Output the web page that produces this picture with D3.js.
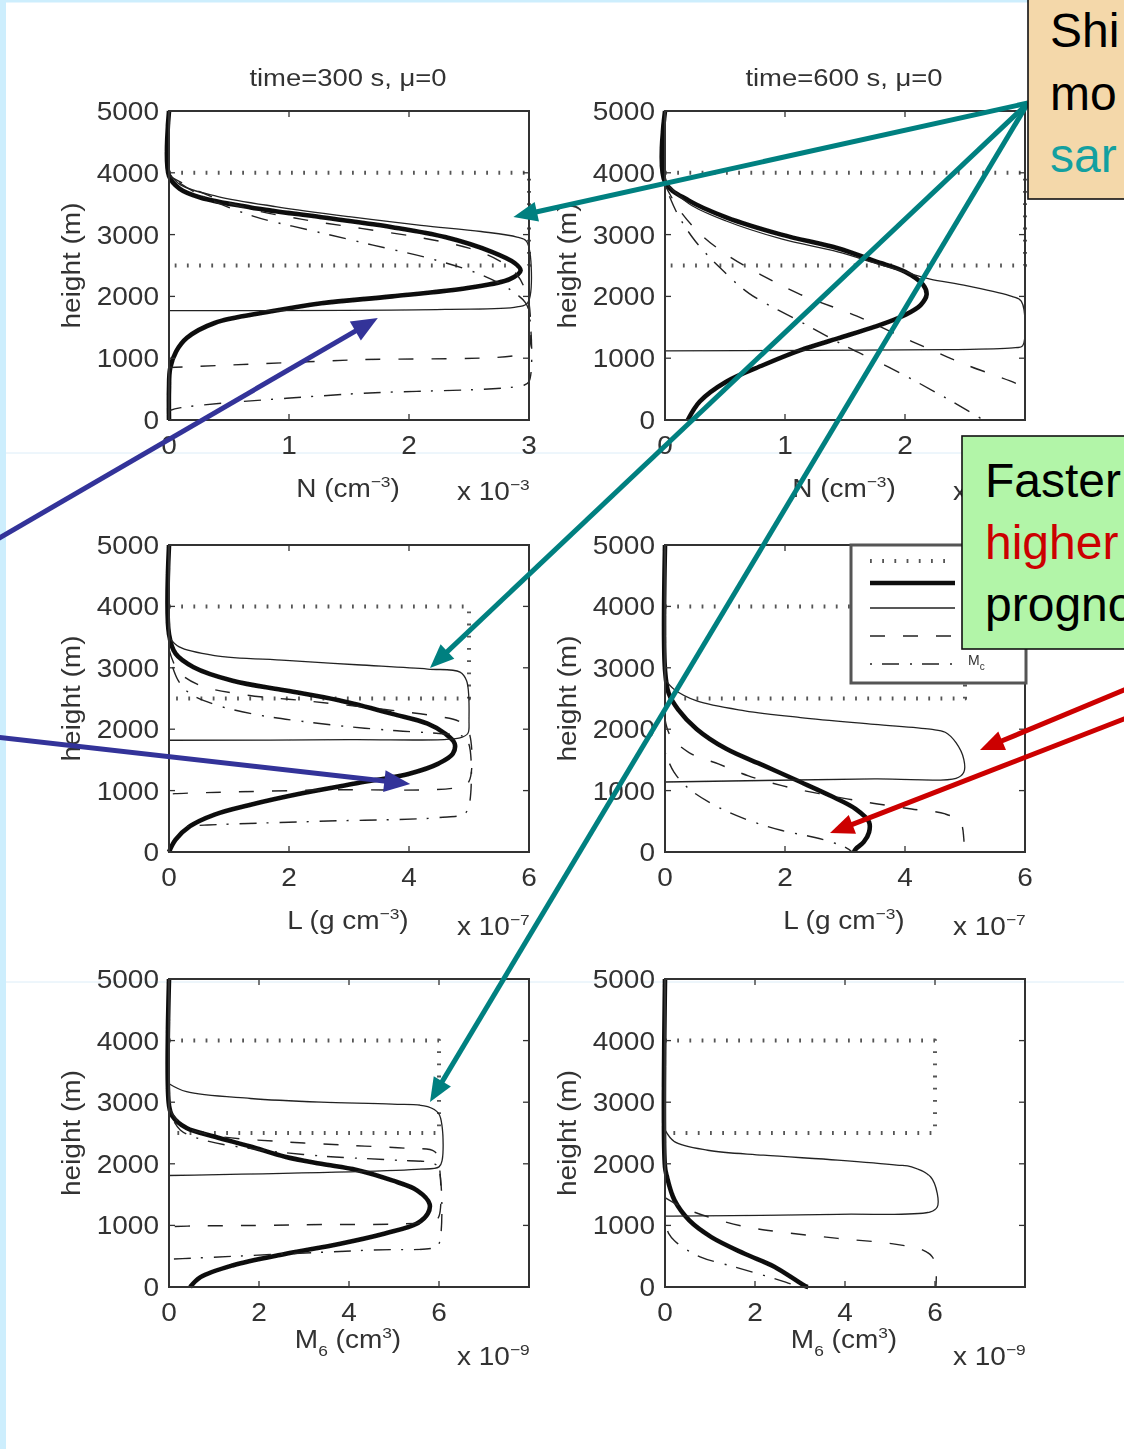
<!DOCTYPE html>
<html>
<head>
<meta charset="utf-8">
<script src="https://cdn.jsdelivr.net/npm/d3@7"></script>
<style>
  html, body { margin: 0; padding: 0; background: #fff; overflow: hidden; }
  svg { display: block; }
</style>
</head>
<body>
<svg id="fig" width="1124" height="1449"></svg>
<script>
// ---- axis ticks and labels ----
const heightTicks = [0, 1000, 2000, 3000, 4000, 5000];
const nTicks = [0, 1, 2, 3];
const lTicks = [0, 2, 4, 6];
const mTicks = [0, 2, 4, 6];
const titles = ["time=300 s,  \u03bc=0", "time=600 s,  \u03bc=0"];
const legendLabel = ["M", "c"];

// ---- profiles: [value, height (m)] ----
// number concentration N (x 10^-3 cm^-3)
const initN300 = [[0, 4000], [3, 4000], [3, 2500], [0, 2500]];
const binN300 = [[0, 5000], [0, 3950], [0.09, 3740], [0.26, 3600], [0.68, 3440], [1.27, 3280], [1.86, 3120], [2.3, 2960], [2.69, 2720], [2.88, 2540], [2.93, 2420], [2.84, 2280], [2.5, 2140], [1.86, 2000], [1.27, 1890], [0.83, 1750], [0.38, 1570], [0.15, 1330], [0.06, 1110], [0.01, 840], [0, 500], [0, 0]];
const thinN300 = [[0, 4000], [0.1, 3800], [0.4, 3620], [0.9, 3450], [1.5, 3290], [2.1, 3150], [2.6, 3050], [2.9, 2960], [2.98, 2890], [2.99, 1900], [2.9, 1830], [2.3, 1790], [0, 1770]];
const dashN300 = [[0, 3950], [0.25, 3700], [0.6, 3450], [1.1, 3250], [1.6, 3100], [2.1, 2950], [2.5, 2780], [2.75, 2580], [2.9, 2350], [2.97, 2100], [3.0, 1900], [3.0, 1150], [2.95, 1070], [1.5, 970], [0.15, 860], [0, 850]];
const dashdotN300 = [[0, 3950], [0.25, 3650], [0.7, 3300], [1.2, 3060], [1.7, 2830], [2.2, 2600], [2.6, 2350], [2.85, 2100], [2.97, 1900], [3.0, 1750], [3.0, 620], [2.95, 560], [1.5, 420], [0.1, 200], [0, 150]];

const initN600 = [[0, 4000], [3, 4000], [3, 2500], [0, 2500]];
const binN600 = [[0, 5000], [0, 3850], [0.2, 3550], [0.51, 3280], [0.97, 3000], [1.44, 2780], [1.75, 2570], [2.0, 2400], [2.15, 2190], [2.18, 2030], [2.13, 1860], [2.0, 1700], [1.75, 1510], [1.44, 1320], [1.13, 1130], [0.82, 890], [0.51, 620], [0.29, 300], [0.19, 0]];
const thinN600 = [[0, 3850], [0.2, 3500], [0.51, 3220], [0.97, 2930], [1.44, 2720], [1.75, 2540], [2.06, 2360], [2.21, 2280], [2.52, 2170], [2.89, 2000], [2.97, 1920], [2.98, 1200], [2.92, 1170], [2.37, 1140], [0, 1120]];
const dashN600 = [[0, 3800], [0.12, 3400], [0.3, 3000], [0.51, 2680], [0.8, 2350], [1.13, 2030], [1.6, 1680], [2.06, 1270], [2.5, 900], [2.95, 570], [3.0, 500]];
const dashdotN600 = [[0, 3800], [0.1, 3350], [0.25, 2900], [0.45, 2480], [0.7, 2050], [1.13, 1590], [1.5, 1200], [1.9, 820], [2.3, 400], [2.61, 50], [2.65, 0]];

// liquid water content L (x 10^-7 g cm^-3)
const initL300 = [[0, 4000], [5, 4000], [5, 2500], [0, 2500]];
const binL300 = [[0, 5000], [0, 3550], [0.11, 3230], [0.41, 3010], [1.06, 2790], [1.95, 2630], [2.83, 2470], [3.72, 2250], [4.31, 2090], [4.6, 1930], [4.76, 1770], [4.73, 1600], [4.49, 1440], [4.02, 1280], [3.13, 1120], [2.24, 960], [1.36, 770], [0.76, 610], [0.35, 420], [0.11, 200], [0, 0]];
const thinL300 = [[0, 3500], [0.17, 3340], [0.76, 3200], [1.95, 3120], [3.13, 3050], [4.31, 2980], [4.85, 2930], [4.96, 2790], [5.0, 2150], [4.98, 1930], [4.85, 1860], [3.0, 1830], [0, 1820]];
const dashL300 = [[0, 3300], [0.15, 2950], [0.5, 2720], [1.2, 2570], [2.4, 2450], [3.6, 2320], [4.4, 2220], [4.85, 2120], [5.0, 1950], [5.0, 1150], [4.85, 1060], [2.5, 1010], [0.1, 950], [0, 940]];
const dashdotL300 = [[0, 3200], [0.15, 2800], [0.35, 2580], [0.8, 2390], [1.5, 2230], [2.2, 2130], [3.0, 2040], [3.8, 1975], [4.5, 1930], [4.9, 1880], [5.0, 1750], [5.0, 750], [4.92, 620], [4.5, 560], [2.5, 500], [0.64, 440], [0.3, 420]];

const initL600 = [[0, 4000], [5, 4000], [5, 2500], [0, 2500]];
const binL600 = [[0, 5000], [0, 2970], [0.06, 2590], [0.22, 2320], [0.53, 2000], [1.02, 1680], [1.64, 1410], [2.26, 1140], [2.75, 920], [3.18, 700], [3.4, 490], [3.4, 320], [3.31, 160], [3.18, 50], [3.15, 0]];
const thinL600 = [[0, 2810], [0.15, 2650], [0.53, 2460], [1.33, 2300], [2.26, 2190], [3.49, 2080], [4.42, 2000], [4.67, 1950], [4.85, 1780], [4.98, 1510], [4.98, 1300], [4.85, 1200], [3.49, 1190], [0, 1140]];
const dashL600 = [[0, 2160], [0.09, 1890], [0.4, 1620], [0.9, 1430], [1.39, 1240], [1.95, 1080], [2.57, 950], [3.37, 810], [4.11, 700], [4.67, 620], [4.92, 490], [4.98, 220], [4.98, 0]];
const dashdotL600 = [[0, 1620], [0.15, 1300], [0.4, 1030], [0.83, 760], [1.33, 540], [1.95, 350], [2.57, 220], [3.0, 80], [3.12, 0]];

// sixth moment M6 (x 10^-9 cm^3)
const initM300 = [[0, 4000], [6, 4000], [6, 2500], [0, 2500]];
const binM300 = [[0, 5000], [0, 2950], [0.07, 2780], [0.39, 2580], [1.02, 2440], [1.81, 2280], [2.6, 2110], [3.38, 2000], [4.17, 1900], [4.96, 1730], [5.51, 1570], [5.79, 1350], [5.75, 1190], [5.51, 1030], [4.8, 870], [3.78, 700], [2.6, 540], [1.41, 350], [0.7, 160], [0.47, 0]];
const thinM300 = [[0, 3300], [0.39, 3170], [1.81, 3060], [3.38, 3000], [4.96, 2970], [5.75, 2930], [5.99, 2820], [6.07, 2600], [6.07, 2060], [6.0, 1950], [5.5, 1910], [0, 1810]];
const dashM300 = [[0, 2900], [0.3, 2620], [1.0, 2460], [2.5, 2360], [4.0, 2300], [5.3, 2250], [5.9, 2200], [6.0, 2000], [6.0, 1150], [5.9, 1080], [3.0, 1010], [0.5, 990], [0, 980]];
const dashdotM300 = [[0, 2850], [0.25, 2550], [0.8, 2380], [2.0, 2230], [3.5, 2120], [5.0, 2060], [5.9, 2000], [6.0, 1900], [6.0, 700], [5.9, 640], [4.5, 600], [0.3, 460], [0, 450]];

const initM600 = [[0, 4000], [6, 4000], [6, 2500], [0, 2500]];
const binM600 = [[0, 5000], [0, 1950], [0.04, 1800], [0.21, 1410], [0.54, 1080], [1.03, 810], [1.77, 540], [2.43, 330], [3.13, 10], [3.18, 0]];
const thinM600 = [[0, 2550], [0.21, 2360], [0.95, 2220], [2.19, 2140], [3.84, 2060], [5.15, 1980], [5.48, 1950], [5.9, 1790], [6.05, 1520], [6.05, 1300], [5.9, 1220], [3.84, 1180], [0, 1150]];
const dashM600 = [[0, 1450], [0.37, 1300], [0.95, 1140], [1.77, 980], [2.6, 890], [3.84, 790], [5.07, 700], [5.73, 600], [5.94, 490], [6.02, 330], [6.02, 0]];
const dashdotM600 = [[0, 1100], [0.08, 870], [0.29, 700], [0.78, 490], [1.53, 330], [2.19, 190], [2.68, 80], [2.93, 10], [2.95, 0]];

// ---- callouts: arrow tips in panel data coordinates ----
const shiftTips = [["N300", 2.87, 3285], ["L300", 4.35, 2997], ["M300", 5.8, 3003]];
const spectralTips = [["N300", 1.74, 1650], ["L300", 4.02, 1107]];
const fasterTips = [["L600", 5.25, 1661], ["L600", 2.75, 309]];
const shiftLines = ["Shi", "mo", "sar"];
const fasterLines = ["Faster", "higher", "progno"];

// ---- layout ----
const W = 1124, H = 1449;
const cols = [{ left: 169, right: 529 }, { left: 665, right: 1025 }];
const rows = [
  { top: 111, bottom: 420, labelDy: 77, expDy: 80 },
  { top: 545, bottom: 852, labelDy: 77, expDy: 83 },
  { top: 979, bottom: 1287, labelDy: 61, expDy: 78 }
];
const quantities = [
  { xMax: 3, ticks: nTicks, exp: "\u22123", label: [["N (cm", 0], ["\u22123", -1], [")", 0]] },
  { xMax: 6, ticks: lTicks, exp: "\u22127", label: [["L (g cm", 0], ["\u22123", -1], [")", 0]] },
  { xMax: 8, ticks: mTicks, exp: "\u22129", label: [["M", 0], ["6", 1], [" (cm", 0], ["3", -1], [")", 0]] }
];
const panels = [
  { id: "N300", r: 0, c: 0, series: [initN300, binN300, thinN300, dashN300, dashdotN300] },
  { id: "N600", r: 0, c: 1, series: [initN600, binN600, thinN600, dashN600, dashdotN600] },
  { id: "L300", r: 1, c: 0, series: [initL300, binL300, thinL300, dashL300, dashdotL300] },
  { id: "L600", r: 1, c: 1, series: [initL600, binL600, thinL600, dashL600, dashdotL600], legend: true },
  { id: "M300", r: 2, c: 0, series: [initM300, binM300, thinM300, dashM300, dashdotM300] },
  { id: "M600", r: 2, c: 1, series: [initM600, binM600, thinM600, dashM600, dashdotM600] }
];
const lineStyles = [
  { w: 4, dash: "1.8 10.4", color: "#555" },
  { w: 4.6, dash: null, color: "#111" },
  { w: 1.3, dash: null, color: "#222" },
  { w: 1.4, dash: "15 18", color: "#222" },
  { w: 1.4, dash: "2 10 17 11", color: "#222" }
];

const FONT = "'Liberation Sans', Arial, Helvetica, sans-serif";
const TXT = "#333";
const SX = 1.12;   // horizontal stretch of the plot lettering

const svg = d3.select("#fig");
const defs = svg.append("defs");
defs.append("filter").attr("id", "soft").attr("x", "-5%").attr("y", "-5%").attr("width", "110%").attr("height", "110%")
  .append("feGaussianBlur").attr("stdDeviation", 0.5);

// page background with slide strips
svg.append("rect").attr("width", W).attr("height", H).attr("fill", "#fff");
svg.append("rect").attr("x", 0).attr("y", 0).attr("width", 6).attr("height", H).attr("fill", "#cdeefd");
svg.append("rect").attr("x", 0).attr("y", 0).attr("width", W).attr("height", 2.5).attr("fill", "#cdeefd");
[453, 982].forEach(y => svg.append("line").attr("x1", 6).attr("x2", W).attr("y1", y).attr("y2", y)
  .attr("stroke", "#dcedf8").attr("stroke-width", 1));

const fig = svg.append("g").attr("filter", "url(#soft)");

function stretchedText(g, x, y, size, anchor, rotate) {
  return g.append("text")
    .attr("transform", `translate(${x},${y})` + (rotate ? " rotate(-90)" : "") + ` scale(${SX},1)`)
    .attr("font-family", FONT).attr("font-size", size).attr("fill", TXT)
    .attr("text-anchor", anchor);
}

function addParts(t, parts, size) {
  let shift = 0;
  parts.forEach(([s, kind]) => {
    const target = kind === -1 ? -0.42 * size : kind === 1 ? 0.3 * size : 0;
    t.append("tspan").attr("dy", target - shift)
      .attr("font-size", kind === 0 ? size : size * 0.62).text(s);
    shift = target;
  });
}

const scales = {};

panels.forEach(p => {
  const col = cols[p.c], row = rows[p.r], q = quantities[p.r];
  const x = d3.scaleLinear().domain([0, q.xMax]).range([col.left, col.right]);
  const y = d3.scaleLinear().domain([0, 5000]).range([row.bottom, row.top]);
  scales[p.id] = { x, y };
  const g = fig.append("g");

  const smooth = d3.line().x(d => x(d[0])).y(d => y(d[1])).curve(d3.curveCatmullRom.alpha(0.5));
  const straight = d3.line().x(d => x(d[0])).y(d => y(d[1]));

  p.series.forEach((data, i) => {
    const st = lineStyles[i];
    g.append("path").datum(data)
      .attr("d", i === 0 ? straight : smooth)
      .attr("fill", "none").attr("stroke", st.color).attr("stroke-width", st.w)
      .attr("stroke-dasharray", st.dash).attr("stroke-linejoin", "round");
  });

  // box and inward ticks
  g.append("rect").attr("x", col.left).attr("y", row.top)
    .attr("width", col.right - col.left).attr("height", row.bottom - row.top)
    .attr("fill", "none").attr("stroke", "#333").attr("stroke-width", 2);
  q.ticks.forEach(v => {
    [[row.bottom, -6], [row.top, 6]].forEach(([yy, d]) => g.append("line")
      .attr("x1", x(v)).attr("x2", x(v)).attr("y1", yy).attr("y2", yy + d)
      .attr("stroke", "#333").attr("stroke-width", 1.3));
    stretchedText(g, x(v), row.bottom + 34, 25, "middle").text(v);
  });
  heightTicks.forEach(v => {
    [[col.left, 6], [col.right, -6]].forEach(([xx, d]) => g.append("line")
      .attr("x1", xx).attr("x2", xx + d).attr("y1", y(v)).attr("y2", y(v))
      .attr("stroke", "#333").attr("stroke-width", 1.3));
    stretchedText(g, col.left - 10, y(v) + 9, 25, "end").text(v);
  });

  // axis titles
  const cx = (col.left + col.right) / 2 - 1;
  addParts(stretchedText(g, cx, row.bottom + row.labelDy, 25, "middle"), q.label, 25);
  addParts(stretchedText(g, col.left + 288, row.bottom + row.expDy, 25, "start"), [["x 10", 0], [q.exp, -1]], 25);
  stretchedText(g, col.left - 89, (row.top + row.bottom) / 2, 25, "middle", true)
    .text(p.id === "M600" ? "height  (m)" : "height (m)");
  if (p.r === 0) {
    stretchedText(g, cx, row.top - 25, 24.5, "middle").text(titles[p.c]);
  }

  if (p.legend) {
    const lg = g.append("g");
    const lx = col.left + 186, ly = row.top, lw = 175, lh = 138;
    lg.append("rect").attr("x", lx).attr("y", ly).attr("width", lw).attr("height", lh)
      .attr("fill", "#fff").attr("stroke", "#555").attr("stroke-width", 3);
    const rowsY = [16, 38, 63, 91, 119];
    lineStyles.forEach((st, i) => {
      lg.append("line").attr("x1", lx + 19).attr("x2", lx + 104)
        .attr("y1", ly + rowsY[i]).attr("y2", ly + rowsY[i])
        .attr("stroke", st.color).attr("stroke-width", st.w).attr("stroke-dasharray", st.dash);
    });
    const t = lg.append("text").attr("x", lx + 117).attr("y", ly + rowsY[4] + 1)
      .attr("font-family", FONT).attr("font-size", 14).attr("fill", TXT);
    t.append("tspan").text(legendLabel[0]);
    t.append("tspan").attr("dy", 5).attr("font-size", 10).text(legendLabel[1]);
  }
});

// ---- callout arrows ----
function arrow(from, tip, color, width, headLen, headHalf) {
  const dx = tip[0] - from[0], dy = tip[1] - from[1];
  const len = Math.hypot(dx, dy), ux = dx / len, uy = dy / len;
  const bx = tip[0] - ux * headLen, by = tip[1] - uy * headLen;
  svg.append("line").attr("x1", from[0]).attr("y1", from[1])
    .attr("x2", bx + ux * 2).attr("y2", by + uy * 2)
    .attr("stroke", color).attr("stroke-width", width);
  svg.append("polygon")
    .attr("points", [[tip[0], tip[1]], [bx - uy * headHalf, by + ux * headHalf], [bx + uy * headHalf, by - ux * headHalf]]
      .map(pt => pt.join(",")).join(" "))
    .attr("fill", color);
}
const tipPos = ([id, vx, vh]) => [scales[id].x(vx), scales[id].y(vh)];

const shiftOrigin = [1028, 103];
shiftTips.forEach(t => arrow(shiftOrigin, tipPos(t), "#008080", 5, 24, 10));
[[-30, 555], [-30, 734]].forEach((from, i) => arrow(from, tipPos(spectralTips[i]), "#333399", 5, 26, 11));
[[1160, 675], [1160, 705]].forEach((from, i) => arrow(from, tipPos(fasterTips[i]), "#cc0000", 5, 24, 10));

// ---- text boxes ----
svg.append("rect").attr("x", 1028).attr("y", -2).attr("width", 130).attr("height", 201)
  .attr("fill", "#f4d8aa").attr("stroke", "#111").attr("stroke-width", 1.6);
const shiftColors = ["#000", "#000", "#13a0a0"];
shiftLines.forEach((s, i) => svg.append("text").attr("x", 1050).attr("y", 47 + i * 62.5)
  .attr("font-family", FONT).attr("font-size", 48).attr("fill", shiftColors[i]).text(s));

svg.append("rect").attr("x", 962).attr("y", 436).attr("width", 190).attr("height", 213)
  .attr("fill", "#b2f5a8").attr("stroke", "#111").attr("stroke-width", 1.6);
const fasterColors = ["#000", "#cc0000", "#000"];
fasterLines.forEach((s, i) => svg.append("text").attr("x", 985).attr("y", 497 + i * 62)
  .attr("font-family", FONT).attr("font-size", 48).attr("fill", fasterColors[i]).text(s));
</script>
</body>
</html>
